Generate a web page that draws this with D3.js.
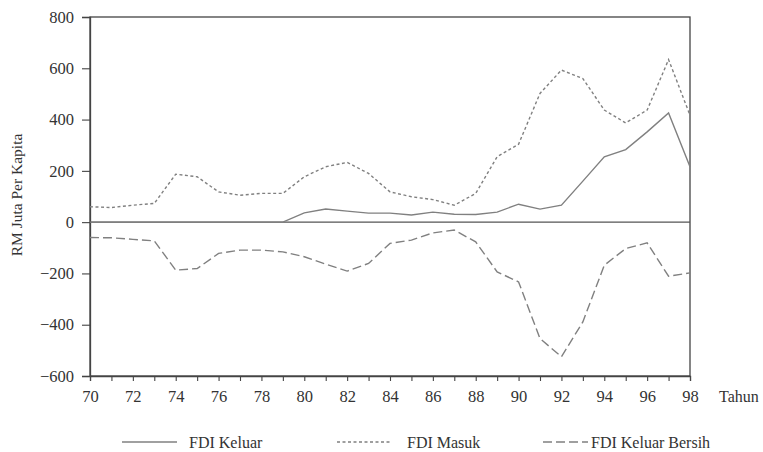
<!DOCTYPE html>
<html lang="ms">
    <head>
        <meta charset="utf-8">
        <title>FDI Keluar, Masuk dan Keluar Bersih</title>
        <script type="text/javascript" src="https://d3js.org/d3.v7.min.js"></script>
        <style type="text/css">
            body { margin: 0; background: #fff; }
            text { font-family: "Liberation Serif", "DejaVu Serif", serif; fill: #333; }
        </style>
    </head>
    <body>
        <script type="text/javascript">

            const width = 763;
            const height = 452;
            const margin = {top: 17, right: 73, bottom: 76, left: 90};

            // years 1970 - 1998
            const years = d3.range(70, 99);
            const yTicks = [-600, -400, -200, 0, 200, 400, 600, 800];

            const fdiKeluar = [0, 0, 0, 0, 0, 0, 0, 0, 0, 0,
                               36, 51, 43, 35, 35, 28, 39, 31, 30, 39,
                               70, 51, 66, 160, 255, 283, 352, 426, 216];
            const fdiMasuk = [60, 57, 66, 73, 187, 177, 118, 105, 112, 112,
                              177, 216, 233, 190, 118, 99, 88, 66, 112, 255,
                              304, 502, 593, 560, 437, 387, 437, 634, 417];
            const fdiKeluarBersih = [-60, -61, -67, -73, -187, -181, -122, -109, -109, -116,
                                     -135, -164, -191, -161, -83, -70, -42, -31, -77, -194,
                                     -233, -454, -525, -389, -168, -103, -81, -211, -198];

            const seriesNames = ["FDI Keluar", "FDI Masuk", "FDI Keluar Bersih"];
            const seriesValues = [fdiKeluar, fdiMasuk, fdiKeluarBersih];
            const dashes = [null, "3,2.5", "9,4"];

            const xScale = d3.scaleLinear()
                             .domain([70, 98])
                             .range([margin.left, width - margin.right]);

            const yScale = d3.scaleLinear()
                             .domain([-600, 800])
                             .range([height - margin.bottom, margin.top]);

            const svg = d3.select("body")
                          .append("svg")
                          .attr("width", width)
                          .attr("height", height);

            // frame round the plot
            svg.append("rect")
               .attr("x", margin.left)
               .attr("y", margin.top)
               .attr("width", width - margin.left - margin.right)
               .attr("height", height - margin.top - margin.bottom)
               .attr("fill", "none")
               .attr("stroke", "#444")
               .attr("stroke-width", 1.3);

            // zero line
            svg.append("line")
               .attr("x1", xScale(70))
               .attr("x2", xScale(98))
               .attr("y1", yScale(0))
               .attr("y2", yScale(0))
               .attr("stroke", "#555")
               .attr("stroke-width", 1.2);

            // bottom axis, a tick for each year, labels every two
            const bottomAxis = d3.axisBottom(xScale)
                                 .tickValues(years)
                                 .tickSize(5)
                                 .tickPadding(9)
                                 .tickFormat(d => d % 2 === 0 ? d : "");
            const gx = svg.append("g")
                          .attr("transform", "translate(0," + (height - margin.bottom) + ")")
                          .call(bottomAxis);

            const leftAxis = d3.axisLeft(yScale)
                               .tickValues(yTicks)
                               .tickSize(8)
                               .tickPadding(8);
            const gy = svg.append("g")
                          .attr("transform", "translate(" + margin.left + ",0)")
                          .call(leftAxis);

            [gx, gy].forEach(g => {
                g.select(".domain").attr("stroke", "#444").attr("stroke-width", 1.3);
                g.selectAll(".tick line").attr("stroke", "#444").attr("stroke-width", 1.1);
                g.selectAll(".tick text")
                 .attr("font-size", "16.5px")
                 .attr("fill", "#333");
            });

            svg.append("text")
               .attr("x", 719)
               .attr("y", 402)
               .attr("font-size", "16px")
               .text("Tahun");

            svg.append("text")
               .attr("transform", "translate(22,195) rotate(-90)")
               .attr("text-anchor", "middle")
               .attr("font-size", "15.5px")
               .text("RM Juta Per Kapita");

            // lines
            const line = d3.line()
                           .x((d, i) => xScale(years[i]))
                           .y(d => yScale(d));

            svg.selectAll(".series")
               .data(seriesValues)
               .enter()
               .append("path")
               .attr("class", "series")
               .attr("d", line)
               .attr("fill", "none")
               .attr("stroke", "#808080")
               .attr("stroke-width", 1.4)
               .attr("stroke-dasharray", (d, i) => dashes[i]);

            // legend
            const legendX = [122, 337, 543];
            const legend = svg.selectAll(".legend")
                              .data(seriesNames)
                              .enter()
                              .append("g")
                              .attr("class", "legend")
                              .attr("transform", (d, i) => "translate(" + legendX[i] + ",442)");

            legend.append("line")
                  .attr("x1", 0)
                  .attr("x2", (d, i) => i === 2 ? 45 : 55)
                  .attr("stroke", "#808080")
                  .attr("stroke-width", 1.3)
                  .attr("stroke-dasharray", (d, i) => dashes[i]);

            legend.append("text")
                  .attr("x", (d, i) => i === 2 ? 48 : (i === 1 ? 70 : 67))
                  .attr("y", 6)
                  .attr("font-size", "16px")
                  .text(d => d);

        </script>
    </body>
</html>
